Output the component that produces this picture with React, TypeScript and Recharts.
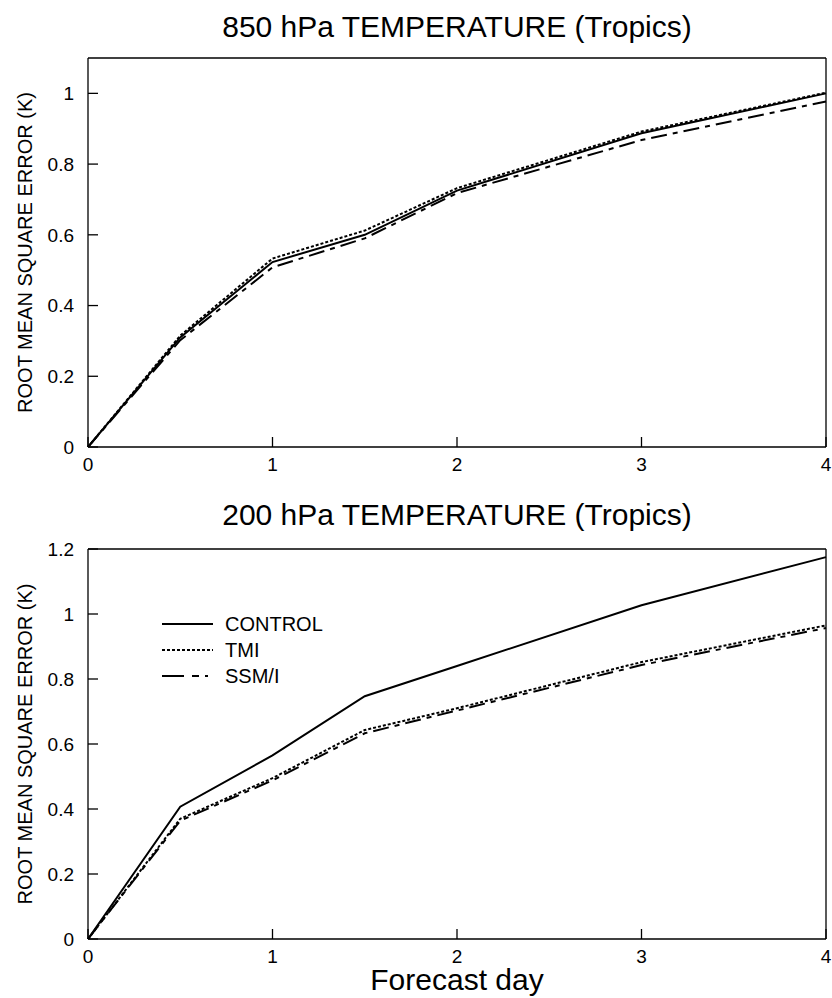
import React from 'react';
import { LineChart, Line, XAxis, YAxis, Legend } from 'recharts';

const days = [0, 0.5, 1, 1.5, 2, 3, 4];
const xTicks = [0, 1, 2, 3, 4];

const t850Control = [0, 0.31, 0.523, 0.6, 0.725, 0.887, 1.0];
const t850Tmi = [0, 0.315, 0.533, 0.612, 0.732, 0.892, 1.002];
const t850Ssmi = [0, 0.302, 0.508, 0.59, 0.718, 0.868, 0.977];
const t850Ticks = [0, 0.2, 0.4, 0.6, 0.8, 1];

const t200Control = [0, 0.407, 0.565, 0.747, 0.84, 1.027, 1.175];
const t200Tmi = [0, 0.37, 0.495, 0.643, 0.71, 0.852, 0.965];
const t200Ssmi = [0, 0.364, 0.488, 0.633, 0.703, 0.843, 0.957];
const t200Ticks = [0, 0.2, 0.4, 0.6, 0.8, 1, 1.2];

const seriesNames = ['CONTROL', 'TMI', 'SSM/I'];

const FONT = "'Liberation Sans', Arial, Helvetica, sans-serif";

const build = (a: number[], b: number[], c: number[]) =>
  days.map((d, i) => ({ day: d, control: a[i], tmi: b[i], ssmi: c[i] }));

const data850 = build(t850Control, t850Tmi, t850Ssmi);
const data200 = build(t200Control, t200Tmi, t200Ssmi);

const styles = [
  { key: 'control', dash: undefined as string | undefined },
  { key: 'tmi', dash: '3 2' },
  { key: 'ssmi', dash: '16 6 5 6' },
];

const LegendBox = () => (
  <svg width={200} height={80} style={{ display: 'block' }}>
    {seriesNames.map((n, i) => (
      <g key={n}>
        <line
          x1={2}
          x2={53}
          y1={14 + i * 26}
          y2={14 + i * 26}
          stroke="#000"
          strokeWidth={2}
          strokeDasharray={i === 1 ? '3 2' : i === 2 ? '22 8 7 6 3 100' : undefined}
        />
        <text x={65} y={14 + i * 26 + 7} fontSize={20} fontFamily={FONT} fill="#000">
          {n}
        </text>
      </g>
    ))}
  </svg>
);

type PanelProps = {
  data: any[];
  yMax: number;
  yTicks: number[];
  top: number;
  height: number;
  marginTop: number;
  legend?: boolean;
};

const tickStyle = { fontSize: 19, fill: '#000', fontFamily: FONT };
const axisLine = { stroke: '#000', strokeWidth: 1.3 };
const tickLine = { stroke: '#000', strokeWidth: 1.3 };

const Panel = ({ data, yMax, yTicks, top, height, marginTop, legend }: PanelProps) => (
  <div style={{ position: 'absolute', left: 0, top }}>
    <LineChart
      width={832}
      height={height}
      data={data}
      margin={{ top: marginTop, right: 5, bottom: 0, left: 0 }}
    >
      <XAxis
        xAxisId="b"
        dataKey="day"
        type="number"
        domain={[0, 4]}
        ticks={xTicks}
        orientation="bottom"
        height={33}
        tickSize={-10}
        tickMargin={21}
        tick={tickStyle}
        axisLine={axisLine}
        tickLine={tickLine}
        interval={0}
      />
      <XAxis
        xAxisId="t"
        dataKey="day"
        type="number"
        domain={[0, 4]}
        ticks={xTicks}
        orientation="top"
        height={1}
        tickSize={-10}
        tick={false}
        axisLine={axisLine}
        tickLine={tickLine}
        interval={0}
      />
      <YAxis
        yAxisId="l"
        type="number"
        domain={[0, yMax]}
        ticks={yTicks}
        orientation="left"
        width={88}
        tickSize={-10}
        tickMargin={24}
        tick={tickStyle}
        axisLine={axisLine}
        tickLine={tickLine}
        interval={0}
        allowDataOverflow
        label={{
          value: 'ROOT MEAN SQUARE ERROR (K)',
          angle: -90,
          position: 'center',
          dx: -19,
          style: { fontSize: 20, fill: '#000', fontFamily: FONT, textAnchor: 'middle' },
        }}
      />
      <YAxis
        yAxisId="r"
        type="number"
        domain={[0, yMax]}
        ticks={yTicks}
        orientation="right"
        width={1}
        tickSize={-10}
        tick={false}
        axisLine={axisLine}
        tickLine={tickLine}
        interval={0}
        allowDataOverflow
      />
      {styles.map((s) => (
        <Line
          key={s.key}
          xAxisId="b"
          yAxisId="l"
          type="linear"
          dataKey={s.key}
          stroke="#000"
          strokeWidth={2}
          strokeDasharray={s.dash}
          dot={false}
          activeDot={false}
          isAnimationActive={false}
        />
      ))}
      {legend && (
        <Legend
          layout="vertical"
          align="center"
          verticalAlign="middle"
          wrapperStyle={{ left: 160, top: 110, width: 200, height: 80 }}
          content={() => <LegendBox />}
        />
      )}
    </LineChart>
  </div>
);

export default function App() {
  return (
    <div
      style={{
        position: 'absolute',
        left: 0,
        top: 0,
        width: 832,
        height: 998,
        background: '#fff',
        fontFamily: FONT,
      }}
    >
      <Panel data={data850} yMax={1.1} yTicks={t850Ticks} top={0} height={480} marginTop={57} />
      <Panel data={data200} yMax={1.2} yTicks={t200Ticks} top={500} height={472} marginTop={48} legend />
      <svg
        width={832}
        height={998}
        style={{ position: 'absolute', left: 0, top: 0, pointerEvents: 'none' }}
      >
        <text x={457} y={37} textAnchor="middle" fontSize={30} fontFamily={FONT} fill="#000">
          850 hPa TEMPERATURE (Tropics)
        </text>
        <text x={457} y={525} textAnchor="middle" fontSize={30} fontFamily={FONT} fill="#000">
          200 hPa TEMPERATURE (Tropics)
        </text>
        <text x={457} y={990} textAnchor="middle" fontSize={30} fontFamily={FONT} fill="#000">
          Forecast day
        </text>
      </svg>
    </div>
  );
}
